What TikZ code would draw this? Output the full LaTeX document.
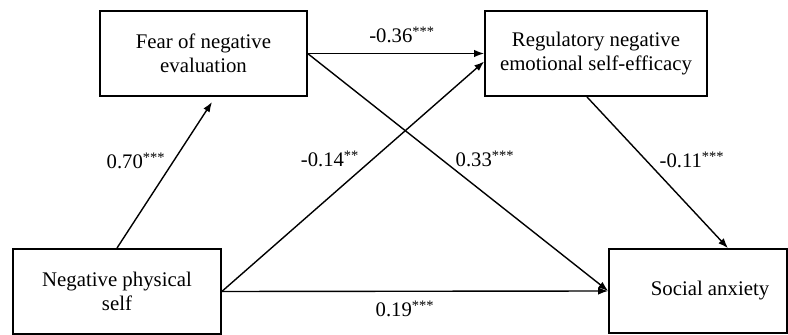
\documentclass[tikz,border=0pt]{standalone}
\usepackage{fontspec}
\setmainfont{Liberation Serif}
\usetikzlibrary{arrows.meta}

\tikzset{
  varbox/.style={draw, line width=1.2pt, rectangle, align=center,
    font=\fontsize{15.6}{18}\selectfont},
  coef/.style={anchor=base, font=\fontsize{15.5}{18}\selectfont},
  path/.style={->, line width=1.05pt}
}

\begin{document}
\begin{tikzpicture}[x=0.75pt, y=0.75pt, >={Latex[length=7.5pt,width=5.5pt]}]

\useasboundingbox (0,0) rectangle (788,335);

% Variables
\node[varbox, minimum width=155pt, minimum height=64pt] (fear) at (203.5,281.5) {Fear of negative\\evaluation};
\node[varbox, minimum width=166.5pt, minimum height=64pt] (reg) at (596,281.5) {Regulatory negative\\emotional self-efficacy};
\node[varbox, minimum width=156pt, minimum height=64pt] (nps) at (117,43.5) {Negative physical\\self};
\node[varbox, minimum width=133.5pt, minimum height=63pt] (soc) at (698,44) {\hspace*{18pt}Social anxiety};

% Paths
\draw[path] (nps.north) -- ([xshift=6.4pt, yshift=-3.75pt]fear.south);
\draw[path] (fear.east) -- (reg.west);
\draw[path] (fear.east) -- (soc.west);
\draw[path] (nps.east) -- ([yshift=-6pt]reg.west);
\draw[path] (nps.east) -- (soc.west);
\draw[path] ([xshift=-6.75pt]reg.south) -- ([xshift=22.5pt]soc.north);

% Coefficients
\node[coef] (c36) at (402,292) {-0.36\textsuperscript{***}};
\node[coef] (c70) at (136,166) {0.70\textsuperscript{***}};
\node[coef] (c14) at (330,168) {-0.14\textsuperscript{**}};
\node[coef] (c33) at (485,168) {0.33\textsuperscript{***}};
\node[coef] (c11) at (692,167) {-0.11\textsuperscript{***}};
\node[coef] (c19) at (405,18) {0.19\textsuperscript{***}};

\end{tikzpicture}
\end{document}
